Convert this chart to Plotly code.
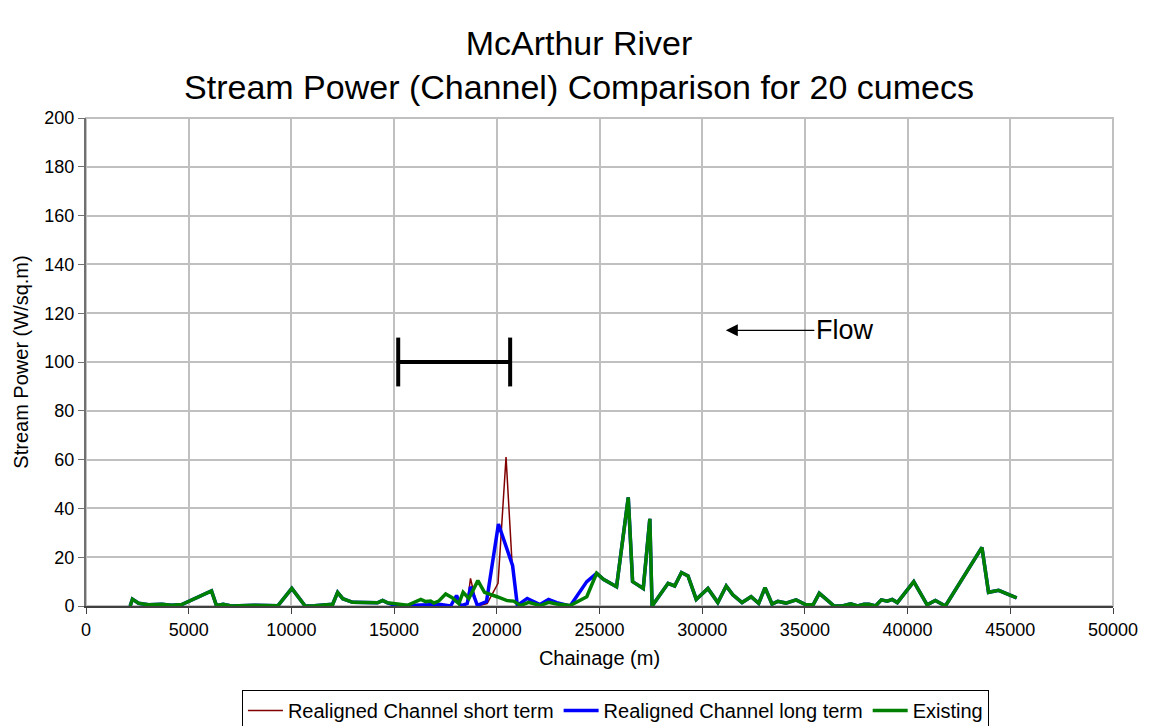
import plotly.graph_objects as go

# Chainage (m) y stream power (W/sq.m) leidos del grafico
# tramo aguas arriba, comun a las tres series
ch_up = [2150, 2260, 2560, 3040, 3690, 4170, 4660, 6110, 6350, 6680, 7080, 8210, 9340,
         10020, 10670, 11110, 12010, 12250, 12500, 12980, 14190, 14440, 14680]
sp_up = [0.0, 2.8, 1.1, 0.5, 0.7, 0.3, 0.6, 6.2, 0.2, 0.7, 0.0, 0.3, 0.1,
         7.2, 0.0, 0.1, 0.7, 5.6, 3.0, 1.5, 1.3, 2.3, 1.3]

# tramo realineado - existente
ch_ex_mid = [15080, 15650, 16300, 16540, 16780, 16930, 17170, 17510, 17830, 18150, 18360, 18640,
             19080, 19400, 20010, 20500, 20820, 21150, 21550, 22120, 22520, 22920, 23570, 24380]
sp_ex_mid = [1.0, 0.3, 2.7, 1.8, 2.0, 1.2, 2.0, 4.9, 3.4, 1.0, 5.6, 3.1,
             10.4, 5.6, 3.8, 2.2, 2.0, 0.2, 1.5, 0.2, 1.5, 0.8, 0.2, 3.8]

# tramo realineado - largo plazo
ch_lt_mid = [15150, 16300, 17270, 17750, 18040, 18240, 18560, 18720, 19050, 19500, 20080,
             20770, 21000, 21480, 22100, 22520, 22920, 23570, 24380]
sp_lt_mid = [0.0, 0.4, 0.6, 0.0, 4.3, 0.0, 1.0, 7.9, 0.3, 1.8, 33.6,
             16.5, 0.2, 3.1, 0.6, 2.7, 1.4, 0.0, 10.0]

# tramo realineado - corto plazo
ch_st_mid = [15150, 16300, 17270, 17750, 18040, 18240, 18560, 18720, 19030, 19530, 20060,
             20450, 20750, 21000, 21480, 22100, 22520, 22920, 23570, 24380]
sp_st_mid = [0.0, 0.4, 0.6, 0.0, 4.3, 0.0, 1.0, 11.3, 0.0, 1.0, 9.3,
             61.0, 16.5, 0.2, 3.1, 0.6, 2.7, 1.4, 0.0, 10.0]

# tramo aguas abajo, comun
ch_dn = [24860, 25190, 25830, 26400, 26610, 27130, 27450, 27560, 28340, 28660, 28990, 29310,
         29710, 30280, 30760, 31170, 31490, 31940, 32380, 32750, 33060, 33400, 33680, 34080,
         34570, 35050, 35400, 35700, 36020, 36420, 36830, 37230, 37560, 37880, 38120, 38440,
         38720, 39010, 39250, 39500, 40300, 40950, 41350, 41840, 43620, 43940, 44430, 45310]
sp_dn = [13.4, 10.9, 7.9, 44.5, 10.0, 7.2, 35.7, 0.0, 9.3, 8.2, 13.7, 12.3,
         2.7, 7.2, 1.4, 8.2, 4.6, 1.4, 3.8, 1.1, 7.5, 0.8, 1.9, 1.2,
         2.5, 0.5, 0.5, 5.2, 2.9, 0.0, 0.0, 0.9, 0.0, 0.7, 0.7, 0.0,
         2.5, 2.0, 2.7, 1.4, 10.0, 0.5, 2.3, 0.0, 24.0, 5.6, 6.4, 3.3]

# tramo marcado (barra) y flecha de flujo
reach_start, reach_end, reach_level = 15200, 20650, 100
flow_x, flow_y = 31150, 113

fuente = 'Liberation Sans, Arial, sans-serif'

fig = go.Figure()
fig.add_trace(go.Scatter(x=ch_up + ch_st_mid + ch_dn, y=sp_up + sp_st_mid + sp_dn,
                         mode='lines', name='Realigned Channel short term',
                         line=dict(color='#800000', width=1.5)))
fig.add_trace(go.Scatter(x=ch_up + ch_lt_mid + ch_dn, y=sp_up + sp_lt_mid + sp_dn,
                         mode='lines', name='Realigned Channel long term',
                         line=dict(color='#0000ff', width=3.5)))
fig.add_trace(go.Scatter(x=ch_up + ch_ex_mid + ch_dn, y=sp_up + sp_ex_mid + sp_dn,
                         mode='lines', name='Existing',
                         line=dict(color='#008000', width=3.5)))

# barra horizontal del tramo
barra = dict(type='line', xref='x', yref='y', line=dict(color='black', width=4))
fig.add_shape(x0=reach_start, x1=reach_end, y0=reach_level, y1=reach_level, **barra)
fig.add_shape(x0=reach_start, x1=reach_start, y0=reach_level - 10, y1=reach_level + 10, **barra)
fig.add_shape(x0=reach_end, x1=reach_end, y0=reach_level - 10, y1=reach_level + 10, **barra)

# borde gris del area de trazado
fig.add_shape(type='rect', xref='paper', yref='paper', x0=0, x1=1, y0=0, y1=1,
              line=dict(color='#c0c0c0', width=2), layer='below')

fig.add_annotation(x=flow_x, y=flow_y, xref='x', yref='y', text='Flow',
                   showarrow=True, arrowhead=2, arrowsize=2, arrowwidth=1.2,
                   arrowcolor='black', ax=119, ay=0,
                   font=dict(family=fuente, size=27, color='black'))

fig.update_layout(
    width=1142, height=718,
    paper_bgcolor='white', plot_bgcolor='white',
    margin=dict(l=76, r=36, t=110, b=120),
    title=dict(text='McArthur River<br>Stream Power (Channel) Comparison for 20 cumecs',
               x=0.5, xanchor='center', y=0.935, yanchor='top',
               font=dict(family=fuente, size=34, color='black')),
    font=dict(family=fuente, size=18, color='black'),
    showlegend=True,
    legend=dict(orientation='h', x=0.5155, xanchor='center', yref='container',
                y=0.05, yanchor='top',
                bordercolor='black', borderwidth=1, font=dict(size=20),
                itemwidth=35, tracegroupgap=0),
)

fig.update_xaxes(range=[0, 50000], dtick=5000, tick0=0, tickformat='d',
                 showgrid=True, gridcolor='#c0c0c0', gridwidth=2,
                 showline=True, linecolor='#404040', linewidth=2,
                 ticks='outside', ticklen=6, tickcolor='#404040',
                 zeroline=False,
                 title=dict(text='Chainage (m)', font=dict(size=20), standoff=12))
fig.update_yaxes(range=[0, 200], dtick=20, tick0=0,
                 showgrid=True, gridcolor='#c0c0c0', gridwidth=2,
                 showline=True, linecolor='#707070', linewidth=2,
                 ticks='outside', ticklen=6, tickcolor='#707070',
                 zeroline=False,
                 title=dict(text='Stream Power (W/sq.m)', font=dict(size=20), standoff=10))

fig.write_html("out.html")
